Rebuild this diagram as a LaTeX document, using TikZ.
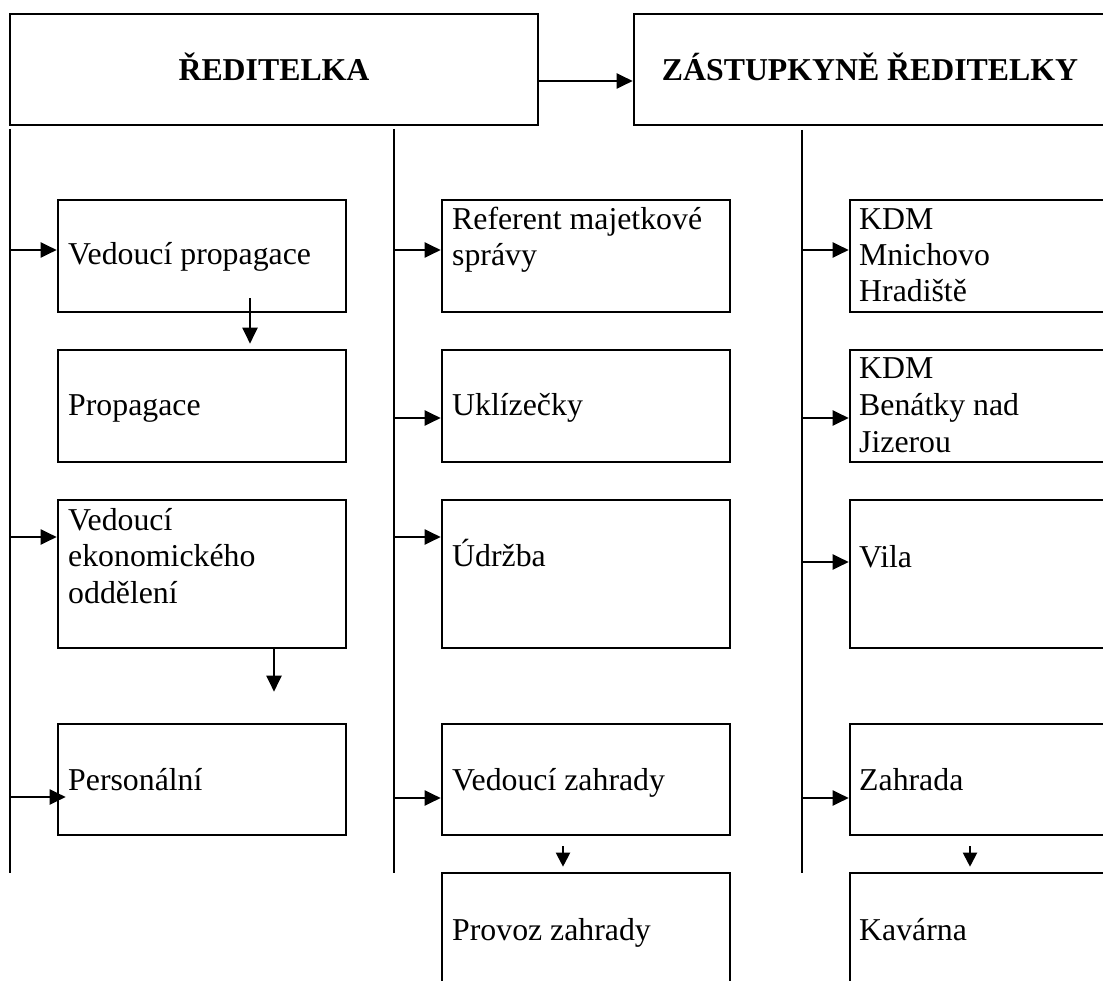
\documentclass[tikz,border=0pt]{standalone}
\usepackage{fontspec}
\setmainfont{Liberation Serif}
\usetikzlibrary{arrows.meta}
\begin{document}
\begin{tikzpicture}[x=1pt,y=-1pt,
  boxn/.style={draw,line width=2.6pt,inner sep=0pt,rectangle},
  trunk/.style={line width=2pt},
  arr/.style={line width=2pt,-{Triangle[length=16pt,width=15pt]}},
  sarr/.style={line width=2pt,-{Triangle[length=14pt,width=14pt]}},
  txt/.style={anchor=base west,inner sep=0pt,font=\fontsize{31.8}{36.5}\selectfont},
  head/.style={anchor=base,inner sep=0pt,font=\fontsize{31.8}{36.5}\selectfont\bfseries}]
\useasboundingbox (0,0) rectangle (1103,981);
\clip (0,0) rectangle (1103,981);
% headers
\node[boxn,minimum width=528pt,minimum height=111pt] (h1) at (274,69.5) {};
\node[boxn,minimum width=472pt,minimum height=111pt] (h2) at (870,69.5) {};
\node[head] (h1t) at (274,81) {ŘEDITELKA};
\node[head] (h2t) at (870,81) {ZÁSTUPKYNĚ ŘEDITELKY};
\draw[arr] ([yshift=-11.5pt]h1.east) -- ([yshift=-11.5pt]h2.west);
% trunks
\coordinate (vLt) at (10,129); \coordinate (vLb) at (10,873);
\coordinate (vMt) at (394,129); \coordinate (vMb) at (394,873);
\coordinate (vRt) at (802,130); \coordinate (vRb) at (802,873);
\draw[trunk] (vLt) -- (vLb);
\draw[trunk] (vMt) -- (vMb);
\draw[trunk] (vRt) -- (vRb);
% left column
\node[boxn,minimum width=288pt,minimum height=112pt] (b1) at (202,256) {};
\node[boxn,minimum width=288pt,minimum height=112pt] (b2) at (202,406) {};
\node[boxn,minimum width=288pt,minimum height=148pt] (b3) at (202,574) {};
\node[boxn,minimum width=288pt,minimum height=111pt] (b4) at (202,779.5) {};
% middle column
\node[boxn,minimum width=288pt,minimum height=112pt] (m1) at (586,256) {};
\node[boxn,minimum width=288pt,minimum height=112pt] (m2) at (586,406) {};
\node[boxn,minimum width=288pt,minimum height=148pt] (m3) at (586,574) {};
\node[boxn,minimum width=288pt,minimum height=111pt] (m4) at (586,779.5) {};
\node[boxn,minimum width=288pt,minimum height=117pt] (m5) at (586,931.5) {};
% right column
\node[boxn,minimum width=262pt,minimum height=112pt] (r1) at (981,256) {};
\node[boxn,minimum width=262pt,minimum height=112pt] (r2) at (981,406) {};
\node[boxn,minimum width=262pt,minimum height=148pt] (r3) at (981,574) {};
\node[boxn,minimum width=262pt,minimum height=111pt] (r4) at (981,779.5) {};
\node[boxn,minimum width=262pt,minimum height=117pt] (r5) at (981,931.5) {};
% texts
\node[txt] (t1) at (68,265) {Vedoucí propagace};
\node[txt] (t2) at (68,416) {Propagace};
\node[txt] (t3a) at (68,530) {Vedoucí};
\node[txt] (t3b) at (68,566) {ekonomického};
\node[txt] (t3c) at (68,603) {oddělení};
\node[txt] (t4) at (68,790) {Personální};
\node[txt] (u1a) at (452,230) {Referent majetkové};
\node[txt] (u1b) at (452,266) {správy};
\node[txt] (u2) at (452,415) {Uklízečky};
\node[txt] (u3) at (452,566) {Údržba};
\node[txt] (u4) at (452,790) {Vedoucí zahrady};
\node[txt] (u5) at (452,940) {Provoz zahrady};
\node[txt] (s1a) at (859,230) {KDM};
\node[txt] (s1b) at (859,266) {Mnichovo};
\node[txt] (s1c) at (859,302) {Hradiště};
\node[txt] (s2a) at (859,379) {KDM};
\node[txt] (s2b) at (859,415) {Benátky nad};
\node[txt] (s2c) at (859,452) {Jizerou};
\node[txt] (s3) at (859,567) {Vila};
\node[txt] (s4) at (859,790) {Zahrada};
\node[txt] (s5) at (859,940) {Kavárna};
% branch arrows left
\path ([yshift=6pt]b1.west) coordinate (a1);
\path ([yshift=37pt]b3.west) coordinate (a3);
\path ([xshift=9pt,yshift=-17.5pt]b4.west) coordinate (a4);
\draw[arr] (vLt |- a1) -- (a1);
\draw[arr] (vLt |- a3) -- (a3);
\draw[arr] (vLt |- a4) -- (a4);
% branch arrows middle
\path ([yshift=6pt]m1.west) coordinate (c1);
\path ([yshift=-12pt]m2.west) coordinate (c2);
\path ([yshift=37pt]m3.west) coordinate (c3);
\path ([yshift=-18.5pt]m4.west) coordinate (c4);
\draw[arr] (vMt |- c1) -- (c1);
\draw[arr] (vMt |- c2) -- (c2);
\draw[arr] (vMt |- c3) -- (c3);
\draw[arr] (vMt |- c4) -- (c4);
% branch arrows right
\path ([yshift=6pt]r1.west) coordinate (d1);
\path ([yshift=-12pt]r2.west) coordinate (d2);
\path ([yshift=12pt]r3.west) coordinate (d3);
\path ([yshift=-18.5pt]r4.west) coordinate (d4);
\draw[arr] (vRt |- d1) -- (d1);
\draw[arr] (vRt |- d2) -- (d2);
\draw[arr] (vRt |- d3) -- (d3);
\draw[arr] (vRt |- d4) -- (d4);
% down arrows
\draw[arr] ([xshift=48pt,yshift=15pt]b1.south) -- ([xshift=48pt,yshift=5pt]b2.north);
\draw[arr] ([xshift=72pt,yshift=2pt]b3.south) -- ([xshift=72pt,yshift=31pt]b4.north);
\draw[sarr] ([xshift=-23pt,yshift=-10pt]m4.south) -- ([xshift=-23pt,yshift=5pt]m5.north);
\draw[sarr] ([xshift=-11pt,yshift=-10pt]r4.south) -- ([xshift=-11pt,yshift=5pt]r5.north);
\end{tikzpicture}
\end{document}
